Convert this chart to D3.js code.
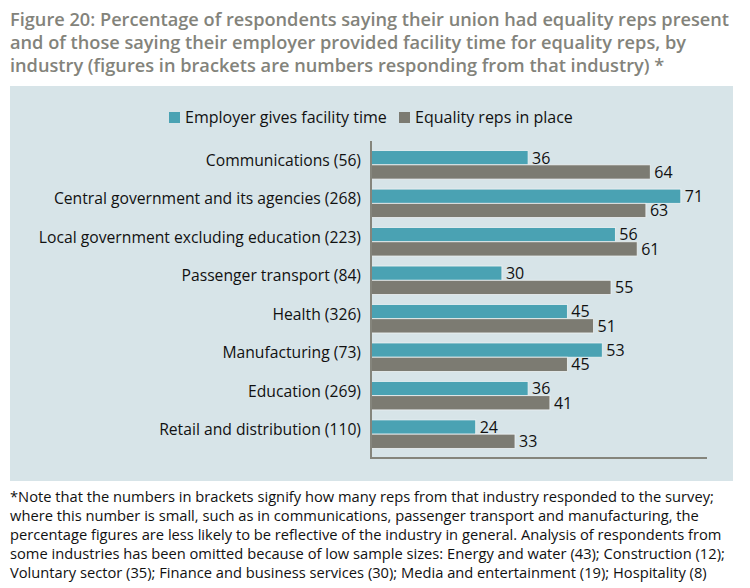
<!DOCTYPE html>
<html>
<head>
<meta charset="utf-8">
<script src="https://cdn.jsdelivr.net/npm/d3@7"></script>
<style>
  body { margin: 0; background: #fff; }
  text { font-family: "Open Sans", Lato, sans-serif; }
</style>
</head>
<body>
<div id="chart"></div>
<script>
// data
const categories = [
  "Communications (56)",
  "Central government and its agencies (268)",
  "Local government excluding education (223)",
  "Passenger transport (84)",
  "Health (326)",
  "Manufacturing (73)",
  "Education (269)",
  "Retail and distribution (110)"
]
const facilityTime = [36, 71, 56, 30, 45, 53, 36, 24]
const repsInPlace = [64, 63, 61, 55, 51, 45, 41, 33]
const seriesNames = ["Employer gives facility time", "Equality reps in place"]

const titleLines = [
  "Figure 20: Percentage of respondents saying their union had equality reps present",
  "and of those saying their employer provided facility time for equality reps, by",
  "industry (figures in brackets are numbers responding from that industry) *"
]
const noteLines = [
  "*Note that the numbers in brackets signify how many reps from that industry responded to the survey;",
  "where this number is small, such as in communications, passenger transport and manufacturing, the",
  "percentage figures are less likely to be reflective of the industry in general. Analysis of respondents from",
  "some industries has been omitted because of low sample sizes: Energy and water (43); Construction (12);",
  "Voluntary sector (35); Finance and business services (30); Media and entertainment (19); Hospitality (8)"
]

const width = 750
const height = 588
const colors = ["#4aa2b3", "#7c7b72"]

const svg = d3.select("#chart")
  .append("svg")
  .attr("width", width)
  .attr("height", height)

// title
svg.append("g").selectAll("text")
  .data(titleLines)
  .enter().append("text")
  .attr("x", 10)
  .attr("y", (d, i) => 26 + i * 23)
  .attr("font-size", 18.2)
  .attr("font-weight", 600)
  .attr("fill", "#83837b")
  .text(d => d)

// panel background
svg.append("rect")
  .attr("x", 10)
  .attr("y", 86)
  .attr("width", 723)
  .attr("height", 395)
  .attr("fill", "#d7e4e8")

const x = d3.scaleLinear().domain([0, 77]).range([371, 707])
const y = d3.scaleBand()
  .domain(categories)
  .range([141, 458])
  .paddingInner(0.26)
  .paddingOuter(0.25)
const ySub = d3.scaleBand().domain([0, 1]).range([0, y.bandwidth()])

const rows = categories.map((c, i) => ({ cat: c, vals: [facilityTime[i], repsInPlace[i]] }))

const groups = svg.append("g").selectAll("g")
  .data(rows)
  .enter().append("g")
  .attr("transform", d => `translate(0,${y(d.cat)})`)

groups.selectAll("rect")
  .data(d => d.vals)
  .enter().append("rect")
  .attr("x", x(0))
  .attr("y", (d, i) => ySub(i))
  .attr("width", d => x(d) - x(0))
  .attr("height", ySub.bandwidth())
  .attr("fill", (d, i) => colors[i])
  .attr("stroke", "#eef3f4")
  .attr("stroke-width", 0.8)

groups.selectAll("text.val")
  .data(d => d.vals)
  .enter().append("text")
  .attr("class", "val")
  .attr("x", d => x(d) + 4)
  .attr("y", (d, i) => ySub(i) + ySub.bandwidth() / 2)
  .attr("dy", "0.36em")
  .attr("font-size", 16)
  .attr("fill", "#111")
  .text(d => d)

// category labels
svg.append("g").selectAll("text")
  .data(categories)
  .enter().append("text")
  .attr("x", 361)
  .attr("y", d => y(d) + y.bandwidth() / 2 + 1)
  .attr("text-anchor", "end")
  .attr("font-size", 15.7)
  .attr("fill", "#111")
  .text(d => d)

// axis lines
const axisG = svg.append("g")
axisG.append("line")
  .attr("x1", x(0)).attr("x2", x(0))
  .attr("y1", 141).attr("y2", 458)
  .attr("stroke", "#85857c").attr("stroke-width", 2)
axisG.append("line")
  .attr("x1", x(0) - 1).attr("x2", x.range()[1])
  .attr("y1", 458).attr("y2", 458)
  .attr("stroke", "#85857c").attr("stroke-width", 2)

// legend
const legendX = [169, 399]
const legend = svg.append("g").selectAll("g")
  .data(seriesNames)
  .enter().append("g")
  .attr("transform", (d, i) => `translate(${legendX[i]},112)`)
legend.append("rect")
  .attr("width", 11)
  .attr("height", 11)
  .attr("fill", (d, i) => colors[i])
legend.append("text")
  .attr("x", 16)
  .attr("y", 11)
  .attr("font-size", 16)
  .attr("fill", "#111")
  .text(d => d)

// footnote
svg.append("g").selectAll("text")
  .data(noteLines)
  .enter().append("text")
  .attr("x", 10)
  .attr("y", (d, i) => 502 + i * 19)
  .attr("font-size", 14.7)
  .attr("fill", "#111")
  .text(d => d)
</script>
</body>
</html>
